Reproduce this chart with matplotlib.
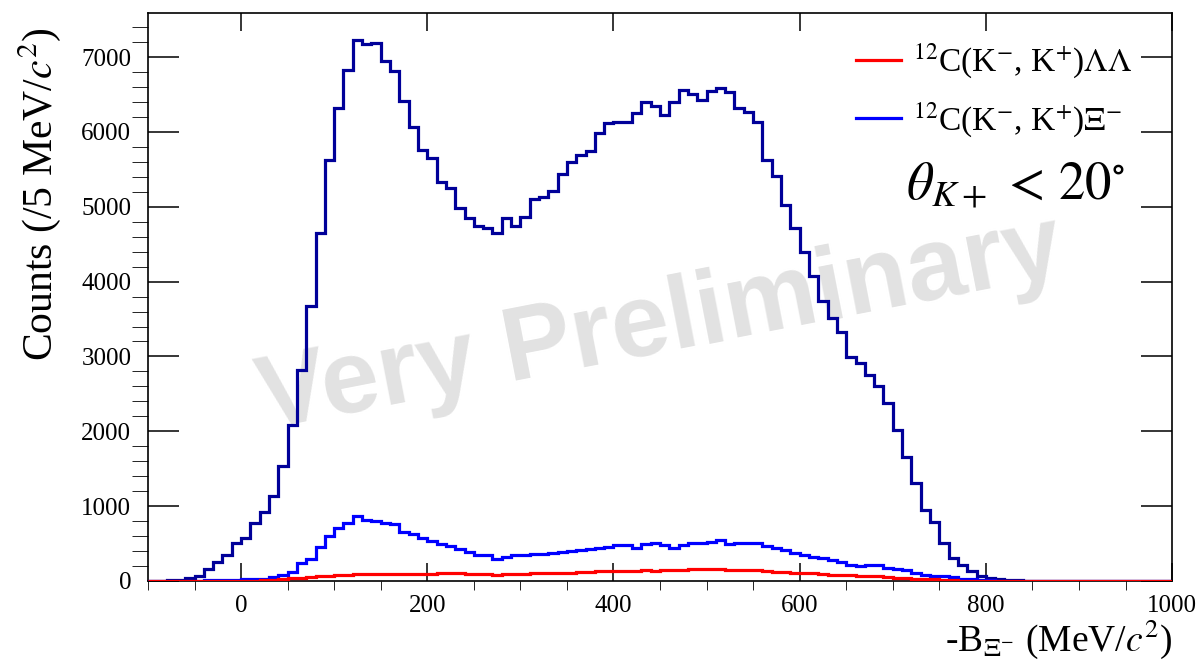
import numpy as np
import matplotlib
matplotlib.use('Agg')
import matplotlib.pyplot as plt
from matplotlib.ticker import MultipleLocator

plt.rcParams['font.family'] = ['Liberation Serif', 'DejaVu Serif']
plt.rcParams['mathtext.fontset'] = 'stix'

# bin edges: -100 .. 1000 MeV, 10 MeV per bin
edges = np.arange(-100, 1001, 10)

# total (dark blue)
total = [0, 3, 8, 15, 38, 67, 156, 250, 348, 505,
         571, 772, 928, 1129, 1530, 2088, 2825, 3672, 4645, 5627,
         6315, 6831, 7229, 7175, 7193, 6952, 6814, 6417, 6060, 5760,
         5653, 5332, 5256, 4989, 4856, 4740, 4716, 4649, 4850, 4746,
         4866, 5102, 5137, 5214, 5437, 5593, 5696, 5745, 5986, 6120,
         6129, 6129, 6250, 6407, 6345, 6232, 6398, 6555, 6510, 6421,
         6542, 6590, 6533, 6314, 6268, 6135, 5622, 5412, 5020, 4722,
         4400, 4074, 3739, 3516, 3324, 2994, 2914, 2754, 2601, 2378,
         2021, 1656, 1310, 950, 785, 510, 310, 214, 128, 67,
         36, 23, 15, 8, 5, 3, 0, 0, 0, 0,
         0, 0, 0, 0, 0, 0, 0, 0, 0, 0]

# 12C(K-,K+)Xi-
xi = [0, 1, 2, 3, 4, 6, 8, 10, 12, 15,
      20, 25, 31, 49, 80, 125, 245, 290, 459, 602,
      714, 772, 870, 817, 808, 781, 763, 660, 629, 580,
      540, 491, 473, 424, 384, 344, 348, 290, 325, 344,
      344, 357, 361, 379, 392, 406, 410, 424, 437, 459,
      482, 482, 437, 495, 504, 482, 437, 482, 513, 513,
      527, 549, 495, 504, 504, 504, 468, 446, 415, 370,
      348, 326, 304, 280, 259, 214, 205, 214, 214, 180,
      160, 147, 112, 80, 67, 67, 49, 31, 20, 13,
      8, 5, 3, 2, 1, 0, 0, 0, 0, 0,
      0, 0, 0, 0, 0, 0, 0, 0, 0, 0]

# 12C(K-,K+)LambdaLambda
ll = [0, 0, 0, 0, 0, 0, 0, 0, 0, 0,
      0, 5, 10, 18, 25, 35, 45, 55, 62, 70,
      80, 85, 92, 95, 92, 95, 95, 94, 92, 96,
      94, 100, 108, 104, 95, 94, 96, 85, 90, 92,
      96, 105, 108, 110, 112, 112, 118, 125, 128, 134,
      134, 130, 136, 140, 138, 147, 145, 152, 158, 160,
      158, 155, 150, 148, 145, 140, 132, 122, 116, 110,
      108, 104, 95, 85, 80, 76, 70, 65, 60, 52,
      46, 40, 33, 28, 20, 14, 10, 6, 3, 1,
      0, 0, 0, 0, 0, 0, 0, 0, 0, 0,
      0, 0, 0, 0, 0, 0, 0, 0, 0, 0]

fig = plt.figure(figsize=(12.01, 6.62), dpi=100)
ax = fig.add_axes([0.1232, 0.1224, 0.8527, 0.8580])

# watermark
ax.text(0.50, 0.45, 'Very Preliminary', transform=ax.transAxes,
        family=['Liberation Sans', 'DejaVu Sans'], fontweight='bold',
        fontsize=75, color='#e2e2e2', rotation=11, ha='center', va='center',
        zorder=0)

ax.stairs(total, edges, color='#000099', lw=2.3, zorder=3)
h_xi = ax.stairs(xi, edges, color='#0000ff', lw=2.3, zorder=4)
h_ll = ax.stairs(ll, edges, color='#ff0000', lw=2.3, zorder=5)

ax.set_xlim(-100, 1000)
ax.set_ylim(0, 7590)

ax.xaxis.set_major_locator(MultipleLocator(200))
ax.xaxis.set_minor_locator(MultipleLocator(50))
ax.yaxis.set_major_locator(MultipleLocator(1000))
ax.yaxis.set_minor_locator(MultipleLocator(200))
ax.tick_params(direction='in', top=True, right=True, width=1.1, labelsize=18)
ax.tick_params(axis='x', which='major', length=13, pad=10)
ax.tick_params(axis='x', which='minor', length=6.5)
ax.tick_params(axis='y', which='major', length=22, pad=12)
ax.tick_params(axis='y', which='minor', length=11.5)
for s in ax.spines.values():
    s.set_linewidth(1.2)

ax.set_ylabel(r'Counts (/5 MeV/$c^{2}$)', fontsize=30, loc='top')
ax.yaxis.set_label_coords(-0.083, 0.975)
ax.set_xlabel(r'-B$_{\Xi^{-}}$ (MeV/$c^{2}$)', fontsize=27, loc='right', labelpad=0)

ax.legend([h_ll, h_xi],
          [r'$^{12}$C(K$^{-}$, K$^{+}$)$\Lambda\Lambda$',
           r'$^{12}$C(K$^{-}$, K$^{+}$)$\Xi^{-}$'],
          loc='upper right', bbox_to_anchor=(0.99, 1.002), frameon=False,
          fontsize=24, handlelength=1.35, handletextpad=0.36, labelspacing=0.6)

ax.text(0.954, 0.697, r'$\theta_{K+}\,<\,\mathit{20}^{\circ}$', transform=ax.transAxes,
        fontsize=38, ha='right', va='center')

fig.savefig('out.png', dpi=100)
